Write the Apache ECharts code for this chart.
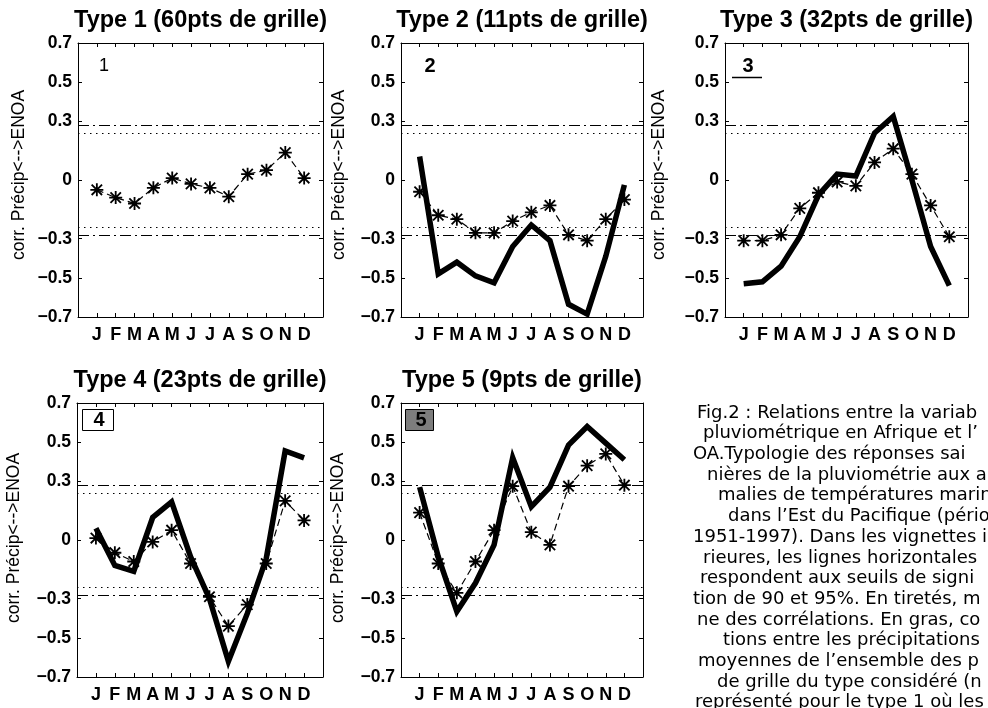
<!DOCTYPE html>
<html>
<head>
<meta charset="utf-8">
<script src="https://cdn.jsdelivr.net/npm/echarts@6/dist/echarts.min.js"></script>
<style>
  html, body { margin: 0; padding: 0; background: #fff; }
  #chart { width: 988px; height: 708px; }
</style>
</head>
<body>
<div id="chart"></div>
<script>
// ---------------- DATA ----------------
const months = ['J', 'F', 'M', 'A', 'M', 'J', 'J', 'A', 'S', 'O', 'N', 'D'];
const yTickValues = [-0.7, -0.5, -0.3, 0, 0.3, 0.5, 0.7];
const yTickLabels = ['\u22120.7', '\u22120.5', '\u22120.3', '0', '0.3', '0.5', '0.7'];
const sig95 = 0.28;   // dash-dot threshold
const sig90 = 0.24;   // dotted threshold

// mean of correlations (dashed with stars)
const type1Mean = [-0.05, -0.09, -0.12, -0.04, 0.01, -0.02, -0.04, -0.085, 0.03, 0.05, 0.14, 0.01];
const type2Mean = [-0.06, -0.18, -0.20, -0.27, -0.27, -0.21, -0.165, -0.13, -0.28, -0.31, -0.20, -0.10];
const type3Mean = [-0.31, -0.31, -0.28, -0.145, -0.065, -0.01, -0.03, 0.09, 0.16, 0.03, -0.13, -0.29];
const type4Mean = [0.01, -0.065, -0.11, -0.01, 0.05, -0.12, -0.29, -0.44, -0.33, -0.12, 0.20, 0.10];
const type5Mean = [0.14, -0.12, -0.27, -0.11, 0.05, 0.275, 0.04, -0.025, 0.275, 0.38, 0.44, 0.28];

// correlations of averaged precipitation (bold)
const type2Avg = [0.12, -0.48, -0.42, -0.49, -0.525, -0.34, -0.23, -0.31, -0.635, -0.685, -0.39, -0.025];
const type3Avg = [-0.53, -0.52, -0.44, -0.29, -0.077, 0.03, 0.02, 0.24, 0.325, 0.0, -0.34, -0.54];
const type4Avg = [0.06, -0.13, -0.16, 0.115, 0.195, -0.085, -0.30, -0.62, -0.375, -0.095, 0.455, 0.42];
const type5Avg = [0.27, -0.085, -0.365, -0.22, -0.025, 0.42, 0.17, 0.27, 0.485, 0.58, 0.495, 0.41];

const titles = ['Type 1 (60pts de grille)', 'Type 2 (11pts de grille)', 'Type 3 (32pts de grille)',
                'Type 4 (23pts de grille)', 'Type 5 (9pts de grille)'];
const yName = 'corr. Pr\u00e9cip<-->ENOA';

const captionLines = [
  'Fig.2 : Relations entre la variab',
  'pluviom\u00e9trique en Afrique et l\u2019',
  'OA.Typologie des r\u00e9ponses sai',
  'ni\u00e8res de la pluviom\u00e9trie aux a',
  'malies de temp\u00e9ratures marin',
  'dans l\u2019Est du Pacifique (p\u00e9rio',
  '1951-1997). Dans les vignettes i',
  'rieures, les lignes horizontales',
  'respondent aux seuils de signi',
  'tion de 90 et 95%. En tiret\u00e9s, m',
  'ne des corr\u00e9lations. En gras, co',
  'tions entre les pr\u00e9cipitations',
  'moyennes de l\u2019ensemble des p',
  'de grille du type consid\u00e9r\u00e9 (n',
  'repr\u00e9sent\u00e9 pour le type 1 o\u00f9 les'
];

// ---------------- LAYOUT ----------------
const FONT = '"Liberation Sans", Arial, Helvetica, sans-serif';
const CAPFONT = '"DejaVu Sans", "Liberation Sans", sans-serif';
const panels = [
  { grid: { left: 78,  top: 43,  width: 245, height: 274 }, mean: type1Mean, avg: null,     nameX: 19,  nameY: 175 },
  { grid: { left: 401, top: 43,  width: 242, height: 274 }, mean: type2Mean, avg: type2Avg, nameX: 339, nameY: 175 },
  { grid: { left: 725, top: 43,  width: 243, height: 274 }, mean: type3Mean, avg: type3Avg, nameX: 659, nameY: 175 },
  { grid: { left: 77,  top: 403, width: 246, height: 274 }, mean: type4Mean, avg: type4Avg, nameX: 14,  nameY: 538 },
  { grid: { left: 401, top: 403, width: 242, height: 274 }, mean: type5Mean, avg: type5Avg, nameX: 338, nameY: 538 }
];

const monthPos = months.map((m, k) => k + 1);
const starPath = 'path://M43 0L57 0L57 100L43 100Z M0 43L100 43L100 57L0 57Z M5 15L15 5L95 85L85 95Z M85 5L95 15L15 95L5 85Z';

const grids = [], xAxes = [], yAxes = [], series = [], graphics = [];

function yLabel(v) {
  for (let i = 0; i < yTickValues.length; i++) {
    if (Math.abs(yTickValues[i] - v) < 1e-6) return yTickLabels[i];
  }
  return '';
}

panels.forEach((p, i) => {
  grids.push(Object.assign({ containLabel: false }, p.grid));
  const xBase = {
    type: 'value', gridIndex: i, min: 0, max: 13,
    axisLine: { show: true, onZero: false, lineStyle: { color: '#000', width: 1 } },
    splitLine: { show: false },
    axisTick: { show: true, inside: true, length: 4, customValues: monthPos, lineStyle: { color: '#000' } }
  };
  xAxes.push(Object.assign({}, xBase, {
    position: 'bottom',
    axisLabel: { show: true, customValues: monthPos, formatter: v => months[Math.round(v) - 1],
                 fontSize: 18, fontWeight: 'bold', color: '#000', margin: 9, fontFamily: FONT }
  }));
  xAxes.push(Object.assign({}, xBase, { position: 'top', axisLabel: { show: false } }));

  const yBase = {
    type: 'value', gridIndex: i, min: -0.7, max: 0.7,
    axisLine: { show: true, onZero: false, lineStyle: { color: '#000', width: 1 } },
    splitLine: { show: false },
    axisTick: { show: true, inside: true, length: 4, customValues: yTickValues, lineStyle: { color: '#000' } }
  };
  yAxes.push(Object.assign({}, yBase, {
    position: 'left',
    axisLabel: { show: true, customValues: yTickValues, formatter: yLabel,
                 fontSize: 17.5, fontWeight: 'bold', color: '#000', margin: 6, fontFamily: FONT }
  }));
  yAxes.push(Object.assign({}, yBase, { position: 'right', axisLabel: { show: false } }));

  const markLine = {
    silent: true, symbol: ['none', 'none'], label: { show: false }, animation: false,
    lineStyle: { color: '#000', width: 1 },
    data: [
      { yAxis: sig95,  lineStyle: { color: '#000', width: 1, type: [11, 4, 2, 4] } },
      { yAxis: -sig95, lineStyle: { color: '#000', width: 1, type: [11, 4, 2, 4] } },
      { yAxis: sig90,  lineStyle: { color: '#000', width: 1, type: [1.5, 4.5] } },
      { yAxis: -sig90, lineStyle: { color: '#000', width: 1, type: [1.5, 4.5] } }
    ]
  };

  if (p.avg) {
    series.push({
      type: 'line', xAxisIndex: 2 * i, yAxisIndex: 2 * i, z: 2,
      data: p.avg.map((v, k) => [k + 1, v]),
      symbol: 'none', lineStyle: { color: '#000', width: 5.5, join: 'miter' }
    });
  }
  series.push({
    type: 'line', xAxisIndex: 2 * i, yAxisIndex: 2 * i, z: 3,
    data: p.mean.map((v, k) => [k + 1, v]),
    symbol: starPath, symbolSize: 13,
    itemStyle: { color: '#000' },
    lineStyle: { color: '#000', width: 1.2, type: [7, 4] },
    markLine: markLine
  });

  const cx = p.grid.left + p.grid.width / 2;
  graphics.push({
    type: 'text', x: cx, y: p.grid.top - 22,
    style: { text: titles[i], fill: '#000', font: 'bold 23.5px ' + FONT, align: 'center', verticalAlign: 'middle',
             textAlign: 'center', textVerticalAlign: 'middle' }
  });
  graphics.push({
    type: 'text', x: p.nameX, y: p.nameY, rotation: Math.PI / 2,
    style: { text: yName, fill: '#000', font: '17.5px ' + FONT, align: 'center', verticalAlign: 'middle',
             textAlign: 'center', textVerticalAlign: 'middle' }
  });
});

// panel markers
graphics.push({ type: 'text', x: 104, y: 66,
  style: { text: '1', fill: '#000', font: '18px ' + FONT, align: 'center', verticalAlign: 'middle', textAlign: 'center', textVerticalAlign: 'middle' } });
graphics.push({ type: 'text', x: 430, y: 66,
  style: { text: '2', fill: '#000', font: 'bold 20px ' + FONT, align: 'center', verticalAlign: 'middle', textAlign: 'center', textVerticalAlign: 'middle' } });
graphics.push({ type: 'text', x: 748, y: 66,
  style: { text: '3', fill: '#000', font: 'bold 20px ' + FONT, align: 'center', verticalAlign: 'middle', textAlign: 'center', textVerticalAlign: 'middle' } });
graphics.push({ type: 'line', shape: { x1: 732, y1: 77.5, x2: 762, y2: 77.5 }, style: { stroke: '#000', lineWidth: 1.5 } });
graphics.push({ type: 'rect', shape: { x: 82.5, y: 409.5, width: 31, height: 21 }, style: { fill: '#fff', stroke: '#000', lineWidth: 1 } });
graphics.push({ type: 'text', x: 99, y: 420,
  style: { text: '4', fill: '#000', font: 'bold 20px ' + FONT, align: 'center', verticalAlign: 'middle', textAlign: 'center', textVerticalAlign: 'middle' } });
graphics.push({ type: 'rect', shape: { x: 405.5, y: 409.5, width: 28, height: 21 }, style: { fill: '#7d7d7d', stroke: '#000', lineWidth: 1 } });
graphics.push({ type: 'text', x: 421, y: 420,
  style: { text: '5', fill: '#000', font: 'bold 20px ' + FONT, align: 'center', verticalAlign: 'middle', textAlign: 'center', textVerticalAlign: 'middle' } });

// caption
const capX = [697, 703, 693, 707, 718, 728, 693, 703, 700, 693, 697, 723, 698, 717, 695];
captionLines.forEach((t, k) => {
  graphics.push({
    type: 'text', x: capX[k], y: 413 + 20.7 * k,
    style: { text: t, fill: '#000', font: '18px ' + CAPFONT, align: 'left', verticalAlign: 'middle',
             textAlign: 'left', textVerticalAlign: 'middle' }
  });
});

const chart = echarts.init(document.getElementById('chart'), null, { renderer: 'canvas' });
chart.setOption({
  animation: false,
  backgroundColor: '#fff',
  grid: grids,
  xAxis: xAxes,
  yAxis: yAxes,
  series: series,
  graphic: { elements: graphics }
});
</script>
</body>
</html>
